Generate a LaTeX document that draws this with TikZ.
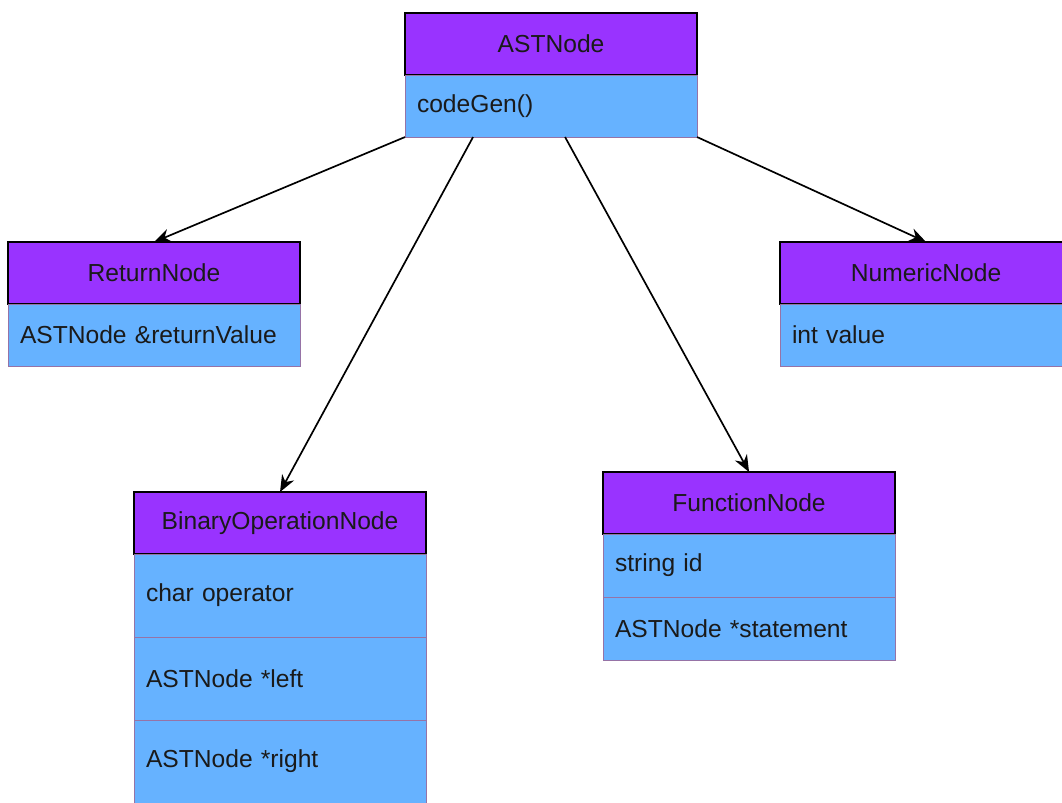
\documentclass[tikz,border=0pt]{standalone}
\usepackage{fontspec}
\setmainfont{Liberation Sans}
\usetikzlibrary{arrows.meta,positioning,calc}
\definecolor{cls}{HTML}{9933FF}
\definecolor{attr}{HTML}{66B2FF}
\definecolor{rim}{HTML}{9673A6}
\definecolor{ink}{HTML}{1A1A1A}
\tikzset{
  hdr/.style={draw=black,fill=cls,line width=1pt,minimum width=7.3cm,minimum height=1.55cm,
              inner sep=0pt,outer sep=0pt,anchor=north west,text=ink,font=\fontsize{17.5}{21}\selectfont},
  fld/.style={draw=rim,fill=attr,line width=0.6pt,text width=6.7cm,inner xsep=0.3cm,inner ysep=0pt,
              minimum height=#1,outer sep=0pt,align=left,text=ink,font=\fontsize{17.5}{21}\selectfont},
  fld/.default=1.55cm,
  gen/.style={-{Stealth[length=4.2mm,width=3.4mm]},line width=1.2pt},
}
\begin{document}
\begin{tikzpicture}[x=0.025cm,y=-0.025cm]
  \useasboundingbox (0,0) rectangle (1062,802);
  % base class
  \node[hdr] (ast) at (405,13) {ASTNode};
  \node[fld,below=0pt of ast] (astf) {codeGen()};
  % subclasses
  \node[hdr] (ret) at (8,242) {ReturnNode};
  \node[fld,below=0pt of ret] (retf) {ASTNode \&returnValue};
  \node[hdr] (num) at (780,242) {NumericNode};
  \node[fld,below=0pt of num] (numf) {int value};
  \node[hdr] (bin) at (134,492) {BinaryOperationNode};
  \node[fld=2.075cm,below=0pt of bin] (bin1) {char operator};
  \node[fld=2.075cm,below=0pt of bin1] (bin2) {ASTNode *left};
  \node[fld=2.075cm,below=0pt of bin2] (bin3) {ASTNode *right};
  \node[hdr] (fun) at (603,472) {FunctionNode};
  \node[fld=1.575cm,below=0pt of fun] (fun1) {string id};
  \node[fld=1.575cm,below=0pt of fun1] (fun2) {ASTNode *statement};
  % generalisation arrows
  \draw[gen] (astf.south west) -- (ret.north);
  \draw[gen] ($(astf.south west)!.233!(astf.south east)$) -- (bin.north);
  \draw[gen] ($(astf.south west)!.548!(astf.south east)$) -- (fun.north);
  \draw[gen] (astf.south east) -- (num.north);
\end{tikzpicture}
\end{document}
